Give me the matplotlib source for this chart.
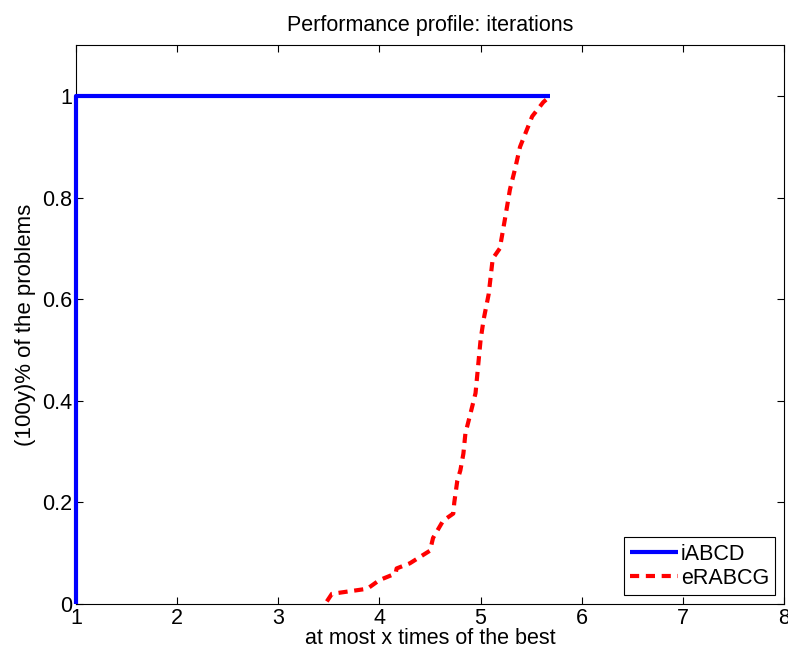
import matplotlib
matplotlib.use("Agg")
import matplotlib.pyplot as plt

plt.rcParams['font.family'] = ['Liberation Sans', 'DejaVu Sans']

# iABCD profile
x_iabcd = [1.0, 1.0, 5.69]
y_iabcd = [0.0, 1.0, 1.0]

# eRABCG profile
x_erabcg = [3.48, 3.53, 3.88, 4.00, 4.16, 4.17, 4.30, 4.50, 4.53, 4.63, 4.73, 4.74,
            4.77, 4.80, 4.83, 4.85, 4.90, 4.95, 5.00, 5.03, 5.08, 5.12, 5.19, 5.24,
            5.29, 5.34, 5.39, 5.44, 5.51, 5.62, 5.69]
y_erabcg = [0.005, 0.02, 0.03, 0.047, 0.06, 0.07, 0.08, 0.105, 0.13, 0.164, 0.178, 0.20,
            0.243, 0.263, 0.296, 0.336, 0.375, 0.415, 0.52, 0.56, 0.61, 0.68, 0.70, 0.757,
            0.816, 0.856, 0.90, 0.925, 0.96, 0.988, 1.0]

xticks = [1, 2, 3, 4, 5, 6, 7, 8]
yticks = [0, 0.2, 0.4, 0.6, 0.8, 1]
yticklabels = ['0', '0.2', '0.4', '0.6', '0.8', '1']

fs = 15.5

fig = plt.figure(figsize=(7.88, 6.56), dpi=100)
ax = fig.add_axes([0.0964, 0.0793, 0.8986, 0.8517])

ax.plot(x_iabcd, y_iabcd, color='#0000ff', lw=3, label='iABCD',
        solid_capstyle='butt', clip_on=False, zorder=5)
ax.plot(x_erabcg, y_erabcg, color='#ff0000', lw=3, ls=(0, (2.2, 1.6)), label='eRABCG')

ax.set_xlim(1, 8)
ax.set_ylim(0, 1.1)
ax.set_xticks(xticks)
ax.set_xticklabels([str(t) for t in xticks])
ax.set_yticks(yticks)
ax.set_yticklabels(yticklabels)
ax.tick_params(direction='in', top=True, right=True, length=5, width=0.8,
               labelsize=fs, pad=3)
for s in ax.spines.values():
    s.set_linewidth(0.8)

ax.set_title('Performance profile: iterations', fontsize=fs, pad=10)
ax.set_xlabel('at most x times of the best', fontsize=fs, labelpad=-1)
ax.set_ylabel('(100y)% of the problems', fontsize=16, labelpad=4)

leg = ax.legend(loc='lower right', fontsize=fs, fancybox=False, edgecolor='black',
                framealpha=1, borderaxespad=0.4, handlelength=2.2, handletextpad=0.15,
                borderpad=0.3, labelspacing=0.15)
leg.get_frame().set_linewidth(0.8)

fig.savefig('out.png', dpi=100)
